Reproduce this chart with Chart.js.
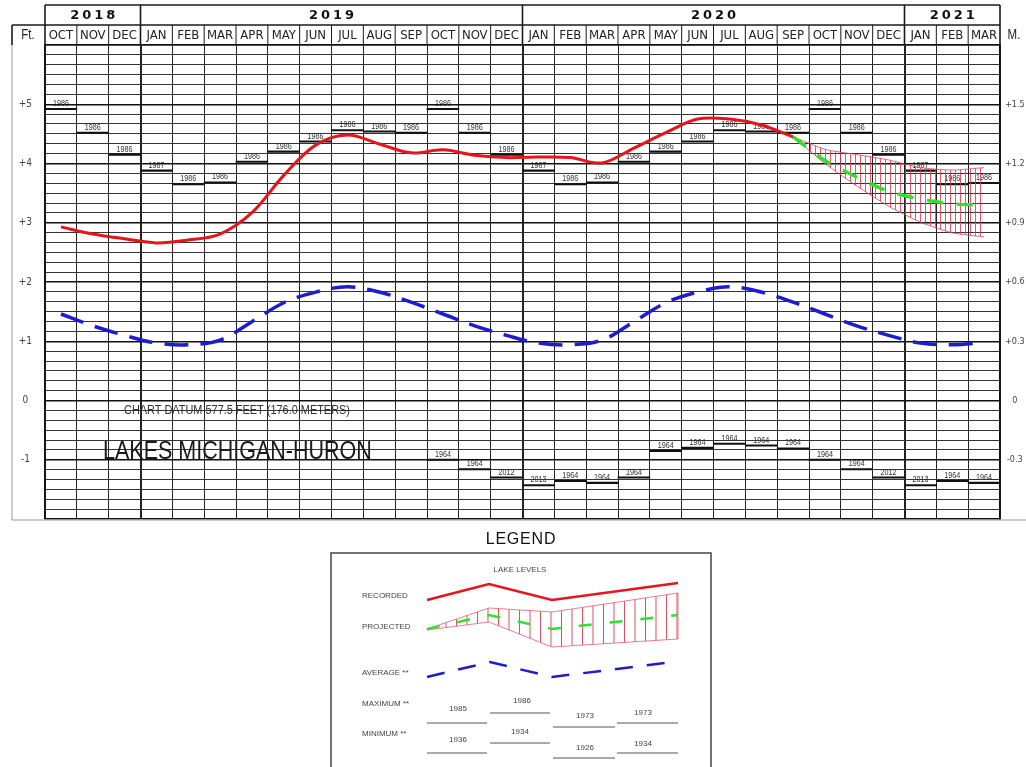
<!DOCTYPE html>
<html lang="en">
<head>
  <meta charset="UTF-8">
  <title>Lakes Michigan-Huron water levels</title>
  <script src="https://cdn.jsdelivr.net/npm/chart.js"></script>
  <style>
    html, body { margin: 0; padding: 0; background: #fff; }
    body { width: 1026px; height: 767px; overflow: hidden; position: relative; font-family: 'Liberation Sans', Arial, sans-serif; }
    #levels { position: absolute; left: 0; top: 0; width: 1026px; height: 538px; }
    #legend { position: absolute; left: 330px; top: 525px; }
    #legend text { font-family: 'Liberation Sans', Arial, sans-serif; fill: #444; font-size: 8px; }
  </style>
</head>
<body>
<canvas id="levels" width="1026" height="538"></canvas>

<svg id="legend" width="384" height="242" viewBox="0 0 384 242">
  <defs>
    <pattern id="hatch" width="10.5" height="10" patternUnits="userSpaceOnUse">
      <rect x="0" y="0" width="1" height="10" fill="#d8505e"></rect>
    </pattern>
  </defs>
  <text x="191" y="19" text-anchor="middle" style="font-size:16px;fill:#111;letter-spacing:0.8px">LEGEND</text>
  <rect x="1" y="28" width="380" height="240" fill="none" stroke="#444" stroke-width="1.5"></rect>
  <text x="190" y="47" text-anchor="middle">LAKE LEVELS</text>

  <text x="32" y="73">RECORDED</text>
  <polyline points="97,75 159,59 222,75 348,58" fill="none" stroke="#e8141c" stroke-width="2.5"></polyline>

  <text x="32" y="104">PROJECTED</text>
  <polygon points="97,104 159,83 222,87 348,68 348,114 222,122 159,97 97,105" fill="url(#hatch)" stroke="#e06070" stroke-width="0.8"></polygon>
  <polyline points="97,104 159,90 222,104 348,90" fill="none" stroke="#2fe02f" stroke-width="2.5" stroke-dasharray="13 18"></polyline>

  <text x="32" y="150">AVERAGE **</text>
  <polyline points="97,152 160,137 222,152 335,138" fill="none" stroke="#1c1cd0" stroke-width="2.5" stroke-dasharray="18 14"></polyline>

  <text x="32" y="181">MAXIMUM **</text>
  <g stroke="#555" stroke-width="1">
    <line x1="97" y1="198" x2="157" y2="198"></line>
    <line x1="160" y1="188" x2="220" y2="188"></line>
    <line x1="223" y1="202" x2="285" y2="202"></line>
    <line x1="287" y1="198" x2="348" y2="198"></line>
  </g>
  <text x="128" y="186" text-anchor="middle">1985</text>
  <text x="192" y="178" text-anchor="middle">1986</text>
  <text x="255" y="193" text-anchor="middle">1973</text>
  <text x="313" y="190" text-anchor="middle">1973</text>

  <text x="32" y="211">MINIMUM **</text>
  <g stroke="#555" stroke-width="1">
    <line x1="97" y1="228" x2="157" y2="228"></line>
    <line x1="160" y1="218" x2="220" y2="218"></line>
    <line x1="223" y1="233" x2="285" y2="233"></line>
    <line x1="287" y1="228" x2="348" y2="228"></line>
  </g>
  <text x="128" y="217" text-anchor="middle">1936</text>
  <text x="190" y="209" text-anchor="middle">1934</text>
  <text x="255" y="225" text-anchor="middle">1926</text>
  <text x="313" y="221" text-anchor="middle">1934</text>
</svg>

<script>
  // months Oct 2018 .. Mar 2021
  const months = ['OCT','NOV','DEC',
    'JAN','FEB','MAR','APR','MAY','JUN','JUL','AUG','SEP','OCT','NOV','DEC',
    'JAN','FEB','MAR','APR','MAY','JUN','JUL','AUG','SEP','OCT','NOV','DEC',
    'JAN','FEB','MAR'];
  const years = ['2018', '2019', '2020', '2021'];
  const monthsPerYear = [3, 12, 12, 3];

  // levels in feet above chart datum
  const recorded = [2.93, 2.81, 2.73, 2.66, 2.71, 2.81, 3.17, 3.80, 4.31, 4.48, 4.33, 4.18,
    4.23, 4.14, 4.10, 4.11, 4.10, 4.01, 4.26, 4.52, 4.75, 4.75, 4.65, 4.45,
    null, null, null, null, null, null];
  const projected = [null, null, null, null, null, null, null, null, null, null, null, null,
    null, null, null, null, null, null, null, null, null, null, null,
    4.45, 4.05, 3.77, 3.53, 3.40, 3.32, 3.30];
  const projectedHigh = [null, null, null, null, null, null, null, null, null, null, null, null,
    null, null, null, null, null, null, null, null, null, null, null,
    4.45, 4.24, 4.15, 4.06, 3.93, 3.89, 3.93];
  const projectedLow = [null, null, null, null, null, null, null, null, null, null, null, null,
    null, null, null, null, null, null, null, null, null, null, null,
    4.45, 4.00, 3.62, 3.28, 3.01, 2.83, 2.76];
  const average = [1.46, 1.26, 1.10, 0.97, 0.94, 1.02, 1.33, 1.65, 1.83, 1.92, 1.83, 1.66,
    1.46, 1.26, 1.10, 0.97, 0.94, 1.02, 1.33, 1.65, 1.83, 1.92, 1.83, 1.66,
    1.46, 1.26, 1.10, 0.97, 0.94, 0.98];

  const recordHigh = [4.92, 4.52, 4.15, 3.88, 3.65, 3.68, 4.03, 4.20, 4.37, 4.56, 4.54, 4.52,
    4.92, 4.52, 4.15, 3.88, 3.65, 3.68, 4.03, 4.20, 4.37, 4.56, 4.54, 4.52,
    4.92, 4.52, 4.15, 3.88, 3.65, 3.67];
  const recordHighYear = ['1986','1986','1986','1987','1986','1986','1986','1986','1986','1986','1986','1986',
    '1986','1986','1986','1987','1986','1986','1986','1986','1986','1986','1986','1986',
    '1986','1986','1986','1987','1986','1986'];
  const recordLow = [null, null, null, null, null, null, null, null, null, null, null, null,
    -1.00, -1.16, -1.30, -1.43, -1.36, -1.39, -1.30, -0.85, -0.80, -0.73, -0.76, -0.81,
    -1.00, -1.16, -1.30, -1.43, -1.36, -1.39];
  const recordLowYear = ['', '', '', '', '', '', '', '', '', '', '', '',
    '1964','1964','2012','2013','1964','1964','1964','1964','1964','1964','1964','1964',
    '1964','1964','2012','2013','1964','1964'];

  // axis labels
  const footTicks = [-1, 0, 1, 2, 3, 4, 5];
  const footLabels = ['-1', '0', '+1', '+2', '+3', '+4', '+5'];
  const meterLabels = ['-0.3', '0', '+0.3', '+0.6', '+0.9', '+1.2', '+1.5'];

  const narrow = '"Liberation Sans Narrow", "DejaVu Sans Condensed", "Liberation Sans", sans-serif';
  Chart.defaults.font.family = narrow;

  // grid every 2 inches
  const gridValues = [];
  for (let i = 0; i <= 48; i++) gridValues.push(-2 + i / 6);

  const yearStarts = [];
  monthsPerYear.reduce((s, n) => { yearStarts.push(s); return s + n; }, 0);

  const labelFor = (v, labels) => {
    const k = footTicks.findIndex(t => Math.abs(t - v) < 1e-6);
    return k < 0 ? '' : labels[k];
  };
  const isFoot = v => Math.abs(v - Math.round(v)) < 1e-6;

  function hatch(color, gap) {
    const c = document.createElement('canvas');
    c.width = gap; c.height = 8;
    const g = c.getContext('2d');
    g.fillStyle = color;
    g.fillRect(0, 0, 1, 8);
    return g.createPattern(c, 'repeat');
  }

  const asBar = arr => arr.map(v => v == null ? null : [v - 0.012, v + 0.012]);

  // squeezed Arial-like text, the drawing uses a narrow face
  function squeezed(ctx, text, x, y, size, sx) {
    ctx.save();
    ctx.translate(x, y);
    ctx.scale(sx, 1);
    ctx.font = size + 'px "Liberation Sans", Arial, sans-serif';
    ctx.fillText(text, 0, 0);
    ctx.restore();
  }

  // record year labels and chart notes, under the curves
  const notes = {
    id: 'notes',
    beforeDatasetsDraw(chart) {
      const { ctx, scales: { x, y } } = chart;
      ctx.save();
      ctx.fillStyle = '#333';
      ctx.textAlign = 'center';
      ctx.textBaseline = 'alphabetic';
      recordHigh.forEach((v, i) => {
        if (v != null) squeezed(ctx, recordHighYear[i], x.getPixelForValue(i), y.getPixelForValue(v) - 3, 9, 0.8);
      });
      recordLow.forEach((v, i) => {
        if (v != null) squeezed(ctx, recordLowYear[i], x.getPixelForValue(i), y.getPixelForValue(v) - 3, 9, 0.8);
      });
      ctx.textAlign = 'left';
      ctx.textBaseline = 'middle';
      squeezed(ctx, 'CHART DATUM 577.5 FEET (176.0 METERS)', 124, 410, 13, 0.84);
      ctx.fillStyle = '#1a1a1a';
      squeezed(ctx, 'LAKES MICHIGAN-HURON', 103, 452, 25, 0.86);
      ctx.restore();
    }
  };

  // year / month header and outer frame
  const frame = {
    id: 'frame',
    afterDraw(chart) {
      const { ctx, chartArea: a, scales: { x } } = chart;
      const col = x.getPixelForValue(1) - x.getPixelForValue(0);
      const edge = i => x.getPixelForValue(i) - col / 2;
      const line = (x1, y1, x2, y2) => { ctx.beginPath(); ctx.moveTo(x1, y1); ctx.lineTo(x2, y2); ctx.stroke(); };
      const yearTop = 5, monthTop = 25;
      ctx.save();
      ctx.strokeStyle = '#1a1a1a';
      ctx.lineWidth = 1;
      for (let i = 1; i < months.length; i++) line(edge(i), monthTop, edge(i), a.top);
      ctx.lineWidth = 1.6;
      line(a.left, yearTop, a.right, yearTop);
      line(12, monthTop, a.right, monthTop);
      line(12, monthTop, 12, a.top);
      yearStarts.forEach(s => line(edge(s), yearTop, edge(s), a.top));
      line(a.right, yearTop, a.right, a.top);
      ctx.strokeStyle = '#999';
      ctx.lineWidth = 1;
      line(12, a.top, 12, a.bottom + 1);
      line(12, a.bottom + 1, 1026, a.bottom + 1);

      ctx.fillStyle = '#111';
      ctx.textAlign = 'center';
      ctx.textBaseline = 'middle';
      ctx.font = 'bold 13px "DejaVu Sans", sans-serif';
      ctx.letterSpacing = '3px';
      years.forEach((yr, k) => {
        const x0 = edge(yearStarts[k]), x1 = edge(yearStarts[k] + monthsPerYear[k]);
        ctx.fillText(yr, (x0 + x1) / 2 + 1.5, 15.5);
      });
      ctx.letterSpacing = '0px';
      ctx.fillStyle = '#222';
      squeezed(ctx, 'Ft.', 28, 35, 14, 0.82);
      squeezed(ctx, 'M.', 1014, 35, 14, 0.82);
      ctx.restore();
    }
  };

  const sharedY = {
    min: -2,
    max: 6,
    afterBuildTicks: s => { s.ticks = gridValues.map(v => ({ value: v })); }
  };

  new Chart(document.getElementById('levels'), {
    type: 'line',
    data: {
      labels: months,
      datasets: [
        {
          label: 'Recorded',
          data: recorded,
          borderColor: '#e8141c',
          borderWidth: 3,
          pointRadius: 0,
          tension: 0.35,
          fill: false
        },
        {
          label: 'Projected',
          data: projected,
          borderColor: '#2fe02f',
          borderWidth: 3.5,
          borderDash: [16, 14],
          pointRadius: 0,
          tension: 0.3,
          fill: false
        },
        {
          label: 'Projected high',
          data: projectedHigh,
          borderColor: 'rgba(220, 70, 90, 0.8)',
          borderWidth: 1,
          pointRadius: 0,
          tension: 0.2,
          fill: '+1',
          backgroundColor: hatch('rgba(222, 60, 80, 0.85)', 5)
        },
        {
          label: 'Projected low',
          data: projectedLow,
          borderColor: 'rgba(220, 70, 90, 0.8)',
          borderWidth: 1,
          pointRadius: 0,
          tension: 0.2,
          fill: false
        },
        {
          label: 'Average',
          data: average,
          borderColor: '#1c1cd0',
          borderWidth: 3.5,
          borderDash: [24, 12],
          pointRadius: 0,
          tension: 0.35,
          fill: false
        },
        {
          type: 'bar',
          label: 'Maximum',
          data: asBar(recordHigh),
          backgroundColor: '#111',
          barPercentage: 1,
          categoryPercentage: 1,
          grouped: false
        },
        {
          type: 'bar',
          label: 'Minimum',
          data: asBar(recordLow),
          backgroundColor: '#111',
          barPercentage: 1,
          categoryPercentage: 1,
          grouped: false
        }
      ]
    },
    options: {
      responsive: false,
      maintainAspectRatio: false,
      animation: false,
      events: [],
      layout: { autoPadding: false, padding: { top: 25, left: 12, right: 0, bottom: 4 } },
      scales: {
        x: {
          position: 'top',
          offset: true,
          afterFit: s => { s.height = 20; },
          grid: {
            offset: true,
            drawTicks: false,
            color: '#222',
            lineWidth: c => (c.index === undefined || yearStarts.includes(c.index)) ? 2 : 1
          },
          border: { display: true, color: '#111', width: 1.6 },
          ticks: { padding: 2, color: '#222', font: { size: 13 }, maxRotation: 0, autoSkip: false }
        },
        y: {
          ...sharedY,
          position: 'left',
          afterFit: s => { s.width = 33; },
          grid: {
            drawTicks: false,
            color: c => isFoot(c.tick.value) ? '#111' : '#333',
            lineWidth: c => isFoot(c.tick.value) ? 1.4 : 1
          },
          border: { display: true, color: '#111', width: 1.6 },
          ticks: {
            autoSkip: false,
            crossAlign: 'center',
            padding: 13,
            color: '#444',
            font: { size: 10 },
            callback: v => labelFor(v, footLabels)
          }
        },
        y2: {
          ...sharedY,
          position: 'right',
          afterFit: s => { s.width = 26; },
          grid: { drawOnChartArea: false, drawTicks: false },
          border: { display: true, color: '#111', width: 1.6 },
          ticks: {
            autoSkip: false,
            crossAlign: 'center',
            padding: 5,
            color: '#444',
            font: { size: 9 },
            callback: v => labelFor(v, meterLabels)
          }
        }
      },
      plugins: {
        legend: { display: false },
        tooltip: { enabled: false }
      }
    },
    plugins: [notes, frame]
  });
</script>
</body>
</html>
